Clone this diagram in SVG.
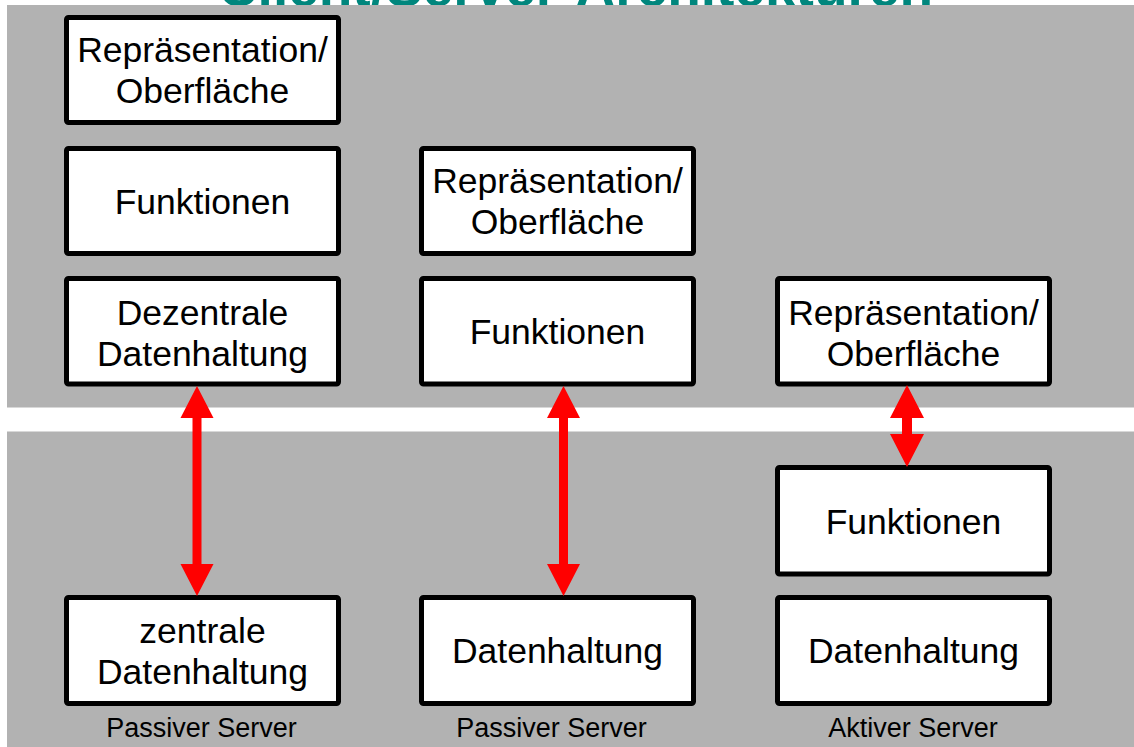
<svg xmlns="http://www.w3.org/2000/svg" width="1134" height="747" viewBox="0 0 1134 747">
  <defs>
    <style>
      .title { font-family: "Liberation Sans", Arial, sans-serif; font-weight: bold; font-size: 55px; fill: #00867d; text-anchor: middle; }
      .panel { fill: #b2b2b2; }
      .box { fill: #ffffff; stroke: #000000; stroke-width: 5; }
      .lbl { font-family: "Liberation Sans", Arial, sans-serif; font-size: 35.5px; fill: #000000; text-anchor: middle; }
      .cap { font-family: "Liberation Sans", Arial, sans-serif; font-size: 27px; fill: #000000; text-anchor: middle; }
      .arrow { fill: #ff0000; }
    </style>
  </defs>

  <rect width="1134" height="747" fill="#ffffff"/>

  <!-- heading, mostly hidden behind the client panel -->
  <text class="title" x="575.5" y="6">Client/Server-Architekturen</text>

  <!-- client and server bands -->
  <rect class="panel" x="7" y="5" width="1127" height="402.5"/>
  <rect class="panel" x="7" y="431.5" width="1127" height="315.5"/>

  <!-- column 1: thick client, passive server -->
  <g id="c1-praesentation">
    <rect class="box" x="66.5" y="17.5" width="272" height="105" rx="2"/>
    <text class="lbl" x="202.5" y="62">Repräsentation/</text>
    <text class="lbl" x="202.5" y="103">Oberfläche</text>
  </g>
  <g id="c1-funktionen">
    <rect class="box" x="66.5" y="148.5" width="272" height="105" rx="2"/>
    <text class="lbl" x="202.5" y="214">Funktionen</text>
  </g>
  <g id="c1-dezentral">
    <rect class="box" x="66.5" y="278.5" width="272" height="105.5" rx="2"/>
    <text class="lbl" x="202.5" y="325">Dezentrale</text>
    <text class="lbl" x="202.5" y="366">Datenhaltung</text>
  </g>
  <g id="c1-zentral">
    <rect class="box" x="66.5" y="597.5" width="272" height="106" rx="2"/>
    <text class="lbl" x="202.5" y="643">zentrale</text>
    <text class="lbl" x="202.5" y="684">Datenhaltung</text>
  </g>

  <!-- column 2: presentation and functions on the client -->
  <g id="c2-praesentation">
    <rect class="box" x="421.5" y="148.5" width="272" height="105" rx="2"/>
    <text class="lbl" x="557.5" y="193">Repräsentation/</text>
    <text class="lbl" x="557.5" y="234">Oberfläche</text>
  </g>
  <g id="c2-funktionen">
    <rect class="box" x="421.5" y="278.5" width="272" height="105.5" rx="2"/>
    <text class="lbl" x="557.5" y="344">Funktionen</text>
  </g>
  <g id="c2-daten">
    <rect class="box" x="421.5" y="597.5" width="272" height="106" rx="2"/>
    <text class="lbl" x="557.5" y="663">Datenhaltung</text>
  </g>

  <!-- column 3: thin client, active server -->
  <g id="c3-praesentation">
    <rect class="box" x="777.5" y="278.5" width="272" height="105.5" rx="2"/>
    <text class="lbl" x="913.5" y="325">Repräsentation/</text>
    <text class="lbl" x="913.5" y="366">Oberfläche</text>
  </g>
  <g id="c3-funktionen">
    <rect class="box" x="777.5" y="467.5" width="272" height="106.5" rx="2"/>
    <text class="lbl" x="913.5" y="534">Funktionen</text>
  </g>
  <g id="c3-daten">
    <rect class="box" x="777.5" y="597.5" width="272" height="106" rx="2"/>
    <text class="lbl" x="913.5" y="663">Datenhaltung</text>
  </g>

  <!-- server type captions -->
  <g id="captions">
    <text class="cap" x="201.5" y="737">Passiver Server</text>
    <text class="cap" x="551.5" y="737">Passiver Server</text>
    <text class="cap" x="913" y="737">Aktiver Server</text>
  </g>

  <!-- double-headed links between client and server tiers -->
  <g id="connectors">
    <path class="arrow" d="M197 386 L213.5 418 L201.5 418 L201.5 564 L213.5 564 L197 596 L180.5 564 L192.5 564 L192.5 418 L180.5 418 Z"/>
    <path class="arrow" d="M563.5 386 L580 418 L568 418 L568 564 L580 564 L563.5 596 L547 564 L559 564 L559 418 L547 418 Z"/>
    <path class="arrow" d="M907 385 L924 418 L912 418 L912 434 L924 434 L907 467 L890 434 L902 434 L902 418 L890 418 Z"/>
  </g>
</svg>
